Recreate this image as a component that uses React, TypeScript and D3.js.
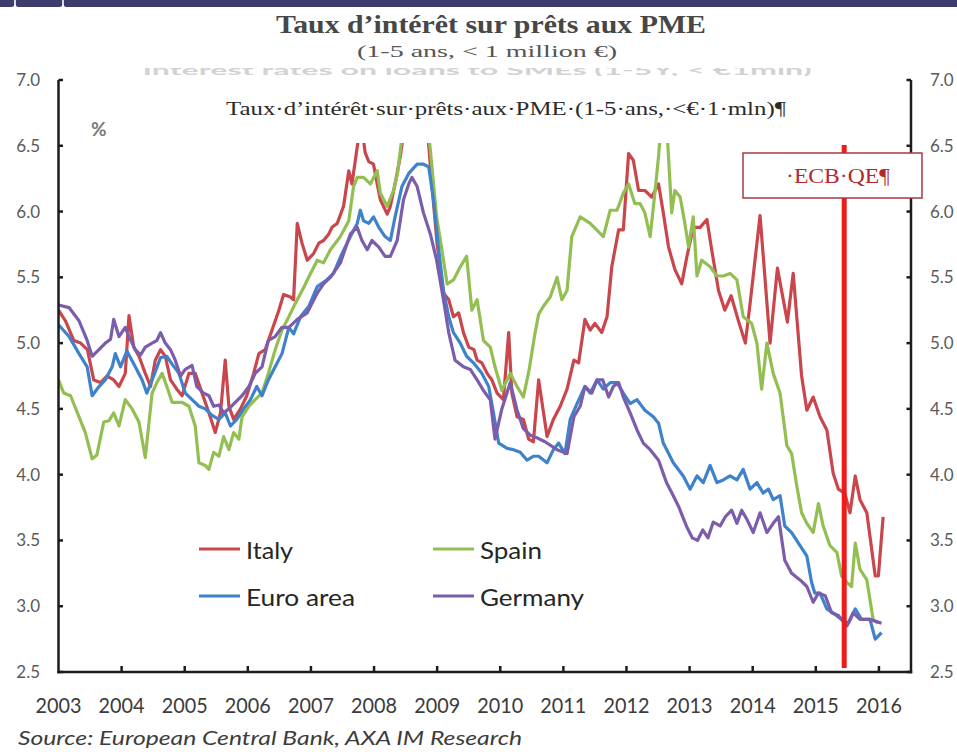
import React from "react";
import * as d3 from "d3";

// Each point: [months since January 2003, interest rate in %]
type Pt = [number, number];

const italy: Pt[] = [
  [0, 5.25], [1.3, 5.17], [2.9, 5.02], [4.2, 5.0], [5.5, 4.95], [6.7, 4.72], [8, 4.7], [9.2, 4.75],
  [10.5, 4.72], [11.5, 4.67], [12.7, 4.77], [13.4, 5.21], [14.3, 4.97], [15.3, 4.9], [16.5, 4.77],
  [17.5, 4.67], [18.4, 4.87], [19.4, 4.95], [20.3, 4.9], [21.3, 4.72], [22.5, 4.65], [23.5, 4.6],
  [24.8, 4.77], [26, 4.77], [27.3, 4.62], [28.6, 4.47], [29.8, 4.32], [30.8, 4.47], [31.7, 4.87],
  [32.4, 4.52], [33.3, 4.42], [34.6, 4.5], [35.8, 4.6], [37.1, 4.77], [38.1, 4.92], [39.3, 4.95],
  [40.6, 5.1], [41.9, 5.25], [42.8, 5.37], [44.1, 5.35], [44.7, 5.33], [45.4, 5.91], [46.3, 5.76],
  [47.3, 5.63], [48.5, 5.68], [49.5, 5.76], [50.4, 5.78], [51.4, 5.83], [52, 5.88], [53, 5.91],
  [54.2, 6.04], [55.2, 6.31], [55.8, 6.21], [56.8, 6.49], [57.5, 6.7], [58.3, 6.45], [59, 6.38],
  [59.9, 6.36], [60.6, 6.21], [61.2, 6.09], [62.5, 5.98], [63.1, 6.04], [64, 6.21], [65, 6.42],
  [66, 6.7], [68, 6.85], [70, 6.7], [71, 6.2], [72, 5.75], [73.2, 5.38], [74.2, 5.33], [75.1, 5.2],
  [76.1, 5.23], [77, 5.08], [78, 4.97], [79, 4.95], [79.6, 4.87], [80.5, 4.85], [81.5, 4.77],
  [82.4, 4.72], [83.4, 4.62], [84.6, 4.57], [85.6, 5.08], [86.2, 4.62], [87.2, 4.44], [88.4, 4.42],
  [89.4, 4.27], [90.3, 4.25], [91.3, 4.72], [92.9, 4.29], [94.1, 4.42], [95.4, 4.52], [96.7, 4.65],
  [98, 4.87], [98.9, 4.85], [100.1, 5.18], [101.1, 5.1], [102, 5.15], [103.3, 5.08], [104.3, 5.2],
  [105.2, 5.58], [106.5, 5.86], [107.4, 5.86], [108.4, 6.44], [109.3, 6.39], [110.3, 6.16],
  [111.5, 6.16], [112.8, 6.11], [114.1, 6.21], [115, 5.99], [116, 5.73], [117.2, 5.56],
  [118.5, 5.45], [119.5, 5.66], [120.7, 5.88], [122, 5.88], [123.3, 5.94], [124.2, 5.71],
  [125.5, 5.4], [126.7, 5.25], [127.9, 5.36], [129.2, 5.18], [130.6, 5.0], [131.5, 5.3],
  [133.4, 5.97], [135.3, 5.0], [136.7, 5.57], [138.6, 5.16], [139.7, 5.53], [141.3, 4.75],
  [142.3, 4.49], [143.5, 4.59], [144.8, 4.44], [146.1, 4.34], [147.3, 4.01], [148.3, 3.89],
  [149.5, 3.86], [150.5, 3.71], [151.5, 3.99], [152.4, 3.81], [153.7, 3.71], [155.3, 3.23],
  [155.9, 3.23], [156.8, 3.68],
];

const spain: Pt[] = [
  [0, 4.72], [1, 4.62], [2.3, 4.6], [3.9, 4.44], [5.1, 4.32], [6.4, 4.12], [7.3, 4.15], [8.6, 4.4],
  [9.6, 4.41], [10.5, 4.47], [11.5, 4.37], [12.7, 4.57], [14, 4.5], [15.3, 4.4], [16.5, 4.13],
  [17.8, 4.62], [18.7, 4.7], [19.7, 4.77], [20.6, 4.67], [21.6, 4.55], [23.5, 4.55], [24.8, 4.52],
  [26, 4.37], [26.7, 4.09], [27.9, 4.07], [28.6, 4.04], [29.5, 4.17], [30.5, 4.14], [31.4, 4.29],
  [32.4, 4.19], [33.3, 4.32], [34.3, 4.27], [34.9, 4.44], [36.2, 4.52], [37.4, 4.57], [38.7, 4.62],
  [39.9, 4.77], [41.2, 4.95], [42.5, 5.1], [43.8, 5.2], [45, 5.3], [46.6, 5.42], [47.3, 5.48],
  [49.2, 5.63], [50.4, 5.61], [51.7, 5.71], [53.6, 5.81], [55.2, 5.93], [56.1, 6.19], [56.8, 6.26],
  [58, 6.26], [59.3, 6.21], [60.6, 6.31], [61.2, 6.14], [62.5, 6.04], [63.7, 6.16], [64.5, 6.3],
  [66, 6.8], [69.5, 6.9], [70.7, 6.47], [71.9, 5.96], [72.9, 5.71], [73.9, 5.45], [75.1, 5.48],
  [76.4, 5.58], [77.6, 5.66], [78.6, 5.25], [79.6, 5.33], [80.8, 5.02], [82.1, 4.97], [83, 4.82],
  [84.3, 4.64], [85.9, 4.77], [87.2, 4.67], [88.4, 4.59], [89.5, 4.8], [90.5, 5.05], [91.3, 5.22],
  [92.2, 5.28], [93.5, 5.35], [94.8, 5.5], [95.7, 5.33], [96.7, 5.4], [97.6, 5.81], [99.2, 5.96],
  [101.1, 5.91], [103.6, 5.81], [104.9, 6.01], [106.2, 6.01], [107.4, 6.14], [108.4, 6.21],
  [109.6, 6.06], [110.6, 6.06], [111.5, 5.99], [112.5, 5.81], [113.4, 6.14], [114.1, 6.42],
  [115, 6.9], [115.8, 6.55], [116.6, 5.99], [117.2, 6.16], [118.2, 6.11], [119.1, 5.91],
  [119.8, 5.73], [120.7, 5.96], [121.4, 5.51], [122.3, 5.63], [123.9, 5.58], [125.2, 5.51],
  [126.4, 5.51], [127.7, 5.53], [129, 5.48], [130.2, 5.2], [131.8, 5.15], [132.8, 5.0],
  [133.7, 4.65], [134.7, 5.0], [135.9, 4.77], [137.2, 4.62], [138.5, 4.22], [139.4, 4.16],
  [140.4, 3.91], [141.3, 3.71], [142.3, 3.63], [143.5, 3.56], [144.5, 3.78], [145.4, 3.61],
  [146.7, 3.46], [148, 3.41], [148.9, 3.23], [149.9, 3.18], [150.8, 3.15], [151.5, 3.48],
  [152.4, 3.28], [153.7, 3.2], [154.9, 2.9], [155.8, 2.87],
];

const euroArea: Pt[] = [
  [0, 5.14], [2, 5.05], [3.9, 4.92], [5.45, 4.82], [6.4, 4.6], [7.7, 4.67], [8.9, 4.72], [10.2, 4.82],
  [10.8, 4.92], [11.8, 4.82], [13, 4.94], [14.6, 4.82], [15.9, 4.72], [16.8, 4.62], [18.1, 4.75],
  [19.4, 4.89], [20.6, 4.9], [21.6, 4.84], [22.9, 4.77], [24.1, 4.62], [25.4, 4.57], [26.7, 4.52],
  [27.9, 4.5], [29.2, 4.45], [30.5, 4.42], [31.7, 4.47], [32.7, 4.37], [33.9, 4.42], [35.2, 4.5],
  [36.5, 4.57], [37.7, 4.67], [38.7, 4.6], [39.9, 4.72], [41.2, 4.82], [42.5, 4.92], [43.8, 5.12],
  [44.7, 5.07], [46, 5.2], [47.6, 5.28], [49.2, 5.43], [51, 5.48], [52.3, 5.53], [53.9, 5.68],
  [55.5, 5.81], [56.8, 5.91], [57.4, 6.01], [58, 5.93], [59, 5.91], [59.9, 5.96], [60.9, 5.88],
  [62.1, 5.81], [63.1, 5.78], [64, 5.96], [65.3, 6.19], [66.6, 6.29], [68.2, 6.36], [69.4, 6.36],
  [70.4, 6.34], [71.3, 6.09], [72.3, 5.71], [73.2, 5.4], [74.2, 5.2], [75.1, 5.08], [76.4, 5.0],
  [77.6, 4.9], [78.9, 4.85], [80.5, 4.77], [81.8, 4.67], [82.7, 4.47], [83.7, 4.24], [85.3, 4.2],
  [86.5, 4.19], [87.8, 4.17], [89.1, 4.11], [90.3, 4.14], [91.3, 4.14], [92.9, 4.09], [94.1, 4.19],
  [95.1, 4.24], [96.3, 4.16], [97.3, 4.42], [98.6, 4.54], [100.1, 4.67], [101.1, 4.62],
  [102.4, 4.72], [103.6, 4.65], [104.9, 4.7], [106.2, 4.7], [107.4, 4.62], [108.7, 4.54],
  [110, 4.57], [111.5, 4.49], [113.1, 4.44], [114.1, 4.39], [115, 4.24], [116.9, 4.09],
  [118.8, 3.99], [120.1, 3.89], [121.4, 3.99], [122.6, 3.94], [123.9, 4.07], [125.2, 3.94],
  [126.4, 3.96], [127.7, 3.99], [129, 3.96], [130.2, 4.04], [131.5, 3.89], [132.8, 3.94],
  [134, 3.86], [135, 3.89], [135.9, 3.81], [137.2, 3.84], [138.1, 3.61], [139.4, 3.56],
  [141, 3.46], [142.3, 3.38], [143.2, 3.18], [143.8, 3.1], [144.8, 3.1], [146.1, 2.98],
  [147.6, 2.94], [148.9, 2.9], [150.2, 2.87], [151.5, 2.98], [152.7, 2.9], [154.3, 2.9],
  [155.3, 2.75], [156.5, 2.8],
];

const germany: Pt[] = [
  [0, 5.29], [2, 5.27], [3.9, 5.17], [5.45, 5.02], [6.4, 4.9], [7.7, 4.95], [8.9, 5.0], [9.9, 5.03],
  [10.5, 5.18], [11.5, 5.05], [12.7, 5.12], [13.4, 5.05], [14.6, 4.95], [15.6, 4.91], [16.5, 4.97],
  [17.8, 5.0], [18.7, 5.02], [19.4, 5.08], [20.3, 5.0], [21.3, 4.95], [22.2, 4.87], [23.2, 4.75],
  [24.1, 4.8], [25.4, 4.83], [26.3, 4.67], [27.6, 4.62], [28.6, 4.6], [29.5, 4.52], [30.5, 4.53],
  [31.4, 4.47], [32.4, 4.5], [33.6, 4.55], [34.9, 4.6], [36.2, 4.67], [37.4, 4.77], [38.7, 4.82],
  [39.9, 5.02], [41.2, 5.05], [42.5, 5.12], [43.8, 5.12], [45.4, 5.18], [47.3, 5.23], [49.2, 5.38],
  [50.4, 5.45], [51.7, 5.5], [53.6, 5.61], [55.5, 5.83], [56.8, 5.88], [57.7, 5.78], [58.7, 5.71],
  [59.6, 5.78], [60.9, 5.73], [62.1, 5.66], [63.1, 5.66], [64.4, 5.78], [65.6, 6.09], [66.6, 6.21],
  [67.2, 6.26], [68.2, 6.19], [69.4, 5.99], [70.7, 5.83], [71.9, 5.63], [73.2, 5.33], [74.2, 5.08],
  [75.4, 4.87], [77, 4.82], [78.3, 4.8], [79.6, 4.72], [80.8, 4.64], [82.1, 4.57], [83, 4.27],
  [84.3, 4.5], [85.9, 4.7], [87.2, 4.49], [88.4, 4.35], [89.7, 4.3], [91, 4.28], [92.5, 4.25],
  [94.8, 4.19], [96.7, 4.16], [98, 4.44], [99.2, 4.52], [100.1, 4.67], [101.4, 4.62], [102.4, 4.72],
  [103.5, 4.72], [104.6, 4.59], [105.5, 4.67], [106.5, 4.7], [107.4, 4.59], [108.7, 4.47],
  [110, 4.34], [111.2, 4.24], [112.5, 4.19], [114.1, 4.11], [115.6, 3.94], [116.9, 3.84],
  [118, 3.75], [119.5, 3.6], [120.5, 3.52], [121.5, 3.5], [122.5, 3.58], [123.5, 3.52],
  [124.5, 3.64], [125.8, 3.61], [126.8, 3.68], [128, 3.73], [129, 3.63], [129.9, 3.73],
  [130.9, 3.66], [132.1, 3.56], [133.4, 3.71], [134.7, 3.56], [135.9, 3.63], [136.9, 3.68],
  [138.1, 3.35], [139.4, 3.25], [141, 3.2], [142.3, 3.15], [143.5, 3.03], [144.5, 3.1],
  [145.8, 3.08], [147, 2.95], [148.3, 2.93], [149.9, 2.85], [151.1, 2.95], [152.4, 2.9],
  [154.3, 2.9], [156.5, 2.87],
];

const years = d3.range(2003, 2017);
const rateTicks = d3.range(2.5, 7.01, 0.5);
const ecbQeMonth = 149.4;

const series = [
  { name: "Italy", data: italy, color: "#c9464c" },
  { name: "Spain", data: spain, color: "#93bf52" },
  { name: "Euro area", data: euroArea, color: "#3f82cc" },
  { name: "Germany", data: germany, color: "#7c5dab" },
];

const W = 957;
const H = 752;
const left = 58.5;
const right = 911;
const top = 80;
const bottom = 672;

const sans = "Lato, 'Open Sans', sans-serif";
const serif = "'Liberation Serif', 'DejaVu Serif', serif";

export default function App() {
  const x = d3.scaleLinear().domain([0, 162.1]).range([left, right]);
  const y = d3.scaleLinear().domain([2.5, 7]).range([bottom, top]);
  const line = d3
    .line<Pt>()
    .x((d) => x(d[0]))
    .y((d) => y(d[1]));

  const legendRows = [
    { s: series[0], lx: 199, ly: 549, tw: 47 },
    { s: series[1], lx: 433, ly: 549, tw: 62 },
    { s: series[2], lx: 199, ly: 596, tw: 109 },
    { s: series[3], lx: 433, ly: 596, tw: 104 },
  ];

  return (
    <svg
      width={W}
      height={H}
      viewBox={`0 0 ${W} ${H}`}
      style={{ position: "absolute", left: 0, top: 0, display: "block", background: "#fff" }}
    >
      <defs>
        <clipPath id="plotClip">
          <rect x={left} y={143} width={right - left} height={bottom - 143} />
        </clipPath>
        <clipPath id="ghostClip">
          <rect x={0} y={68} width={W} height={8} />
        </clipPath>
      </defs>
      <rect x={0} y={0} width={W} height={H} fill="#fff" />

      {/* header band */}
      <rect x={0} y={0} width={W} height={7} fill="#3f3b6d" />
      {[15, 63].map((bx) => (
        <g key={bx} fill="#fff">
          <rect x={bx - 0.8} y={0} width={1.6} height={7} />
          <path d={`M${bx - 3},7 Q${bx},6 ${bx},3 Q${bx},6 ${bx + 3},7 Z`} />
        </g>
      ))}

      {/* titles */}
      <text
        x={491}
        y={33}
        textAnchor="middle"
        fontFamily={serif}
        fontWeight="bold"
        fontSize={26}
        fill="#474747"
        textLength={430}
        lengthAdjust="spacingAndGlyphs"
      >
        Taux d’intérêt sur prêts aux PME
      </text>
      <text
        x={487}
        y={57}
        textAnchor="middle"
        fontFamily={serif}
        fontSize={17}
        fill="#555"
        textLength={260}
        lengthAdjust="spacingAndGlyphs"
      >
        (1-5 ans, &lt; 1 million €)
      </text>
      {/* lower edge of a cropped English heading */}
      <g clipPath="url(#ghostClip)">
        <text
          x={477}
          y={75}
          textAnchor="middle"
          fontFamily={sans}
          fontWeight="bold"
          fontSize={14}
          fill="#d2d2d2"
          textLength={669}
          lengthAdjust="spacingAndGlyphs"
        >
          Interest rates on loans to SMEs (1-5Y, &lt; €1mln)
        </text>
      </g>
      <text
        x={226}
        y={115}
        fontFamily={serif}
        fontSize={18}
        fill="#2b2b2b"
        textLength={560}
        lengthAdjust="spacingAndGlyphs"
      >
        Taux·d’intérêt·sur·prêts·aux·PME·(1-5·ans,·&lt;€·1·mln)¶
      </text>
      <text x={91} y={136} fontFamily={sans} fontWeight="bold" fontSize={19} fill="#7a7a7a">
        %
      </text>

      {/* series */}
      <g clipPath="url(#plotClip)" fill="none" strokeWidth={3.2} strokeLinejoin="round">
        {series.map((s) => (
          <path key={s.name} d={line(s.data) || ""} stroke={s.color} />
        ))}
      </g>

      {/* axes */}
      <g stroke="#1c1c1c" strokeWidth={2.5} fill="none">
        <line x1={left} y1={top} x2={left} y2={bottom + 1.2} />
        <line x1={right} y1={top} x2={right} y2={bottom + 1.2} />
        <line x1={left - 1.2} y1={bottom} x2={right + 1.2} y2={bottom} />
        {rateTicks.map((t) => (
          <g key={t}>
            <line x1={left} y1={y(t)} x2={left + 4.5} y2={y(t)} />
            <line x1={right - 4.5} y1={y(t)} x2={right} y2={y(t)} />
          </g>
        ))}
        {years.slice(1).map((yr) => (
          <line key={yr} x1={x((yr - 2003) * 12)} y1={bottom} x2={x((yr - 2003) * 12)} y2={bottom - 6} />
        ))}
      </g>
      <g fontFamily={sans} fontSize={17} fill="#5a5a5a">
        {rateTicks.map((t) => (
          <g key={t}>
            <text x={40} y={y(t) + 6} textAnchor="end">
              {d3.format(".1f")(t)}
            </text>
            <text x={930} y={y(t) + 6}>
              {d3.format(".1f")(t)}
            </text>
          </g>
        ))}
      </g>
      <g fontFamily={sans} fontSize={22} fill="#3c3c3c">
        {years.map((yr) => (
          <text
            key={yr}
            x={x((yr - 2003) * 12)}
            y={713}
            textAnchor="middle"
            textLength={46}
            lengthAdjust="spacingAndGlyphs"
          >
            {yr}
          </text>
        ))}
      </g>

      {/* legend */}
      {legendRows.map(({ s, lx, ly, tw }) => (
        <g key={s.name}>
          <line x1={lx} y1={ly} x2={lx + 41} y2={ly} stroke={s.color} strokeWidth={3} />
          <text
            x={lx + 47}
            y={ly + 10}
            fontFamily={sans}
            fontSize={24}
            fill="#262626"
            textLength={tw}
            lengthAdjust="spacingAndGlyphs"
          >
            {s.name}
          </text>
        </g>
      ))}

      {/* ECB QE marker */}
      <line x1={x(ecbQeMonth)} y1={145} x2={x(ecbQeMonth)} y2={668} stroke="#ee1b1b" strokeWidth={5} />
      <rect x={743} y={153} width={179} height={45} fill="#fff" stroke="#a53b3f" strokeWidth={1.5} />
      <text
        x={838}
        y={183}
        textAnchor="middle"
        fontFamily={serif}
        fontSize={21}
        fill="#b3282d"
        textLength={104}
        lengthAdjust="spacingAndGlyphs"
      >
        ·ECB·QE¶
      </text>

      {/* source */}
      <text
        x={18}
        y={745}
        fontFamily={sans}
        fontStyle="italic"
        fontSize={19.5}
        fill="#3c3c3c"
        textLength={504}
        lengthAdjust="spacingAndGlyphs"
      >
        Source: European Central Bank, AXA IM Research
      </text>
    </svg>
  );
}
